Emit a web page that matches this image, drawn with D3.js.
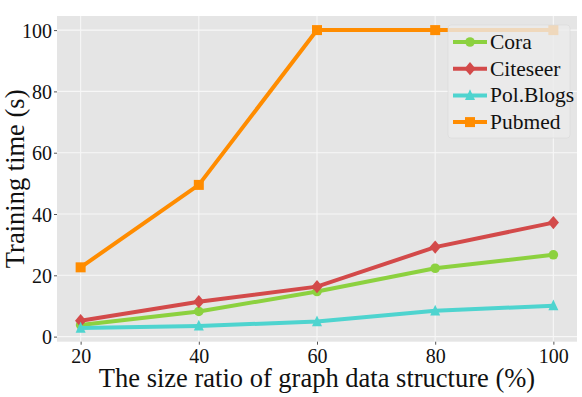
<!DOCTYPE html>
<html lang="en">
<head>
  <meta charset="UTF-8">
  <title>Training time</title>
  <script src="https://cdn.jsdelivr.net/npm/d3@7"></script>
  <style>
    body { margin: 0; background: white; }
    svg { display: block; font-family: "Liberation Serif", "Times New Roman", serif; }
  </style>
</head>
<body>
  <div id="chart"></div>
  <script>
    const ratios = [20, 40, 60, 80, 100]
    const cora = [3.8, 8.2, 14.7, 22.3, 26.7]
    const citeseer = [5.2, 11.4, 16.3, 29.2, 37.2]
    const polBlogs = [2.8, 3.5, 4.9, 8.4, 10.1]
    const pubmed = [22.6, 49.5, 100, 100, 100]
    const xTicks = [20, 40, 60, 80, 100]
    const yTicks = [0, 20, 40, 60, 80, 100]

    const series = [
      { name: 'Cora', values: cora, color: '#8cd13f', shape: 'circle' },
      { name: 'Citeseer', values: citeseer, color: '#d34a4a', shape: 'diamond' },
      { name: 'Pol.Blogs', values: polBlogs, color: '#4ed4cf', shape: 'triangle' },
      { name: 'Pubmed', values: pubmed, color: '#ff8c00', shape: 'square' }
    ]

    const width = 582
    const height = 397
    const padL = 57, padR = 577, padT = 16, padB = 341.7

    const svg = d3.select('#chart').append('svg')
      .attr('width', width)
      .attr('height', height)

    const x = d3.scaleLinear().domain([16, 104]).range([padL, padR])
    const y = d3.scaleLinear().domain([-1.66, 104.6]).range([padB, padT])

    svg.append('rect')
      .attr('x', padL).attr('y', padT)
      .attr('width', padR - padL).attr('height', padB - padT)
      .attr('fill', '#e5e5e5')

    // grid
    svg.append('g').selectAll('line').data(yTicks).enter().append('line')
      .attr('x1', padL).attr('x2', padR)
      .attr('y1', d => y(d)).attr('y2', d => y(d))
      .attr('stroke', '#f7f7f7').attr('stroke-width', 1.1)
    svg.append('g').selectAll('line').data(xTicks).enter().append('line')
      .attr('y1', padT).attr('y2', padB)
      .attr('x1', d => x(d)).attr('x2', d => x(d))
      .attr('stroke', '#f7f7f7').attr('stroke-width', 1.1)

    // axes
    const xAxis = svg.append('g')
      .attr('transform', `translate(0, ${padB})`)
      .call(d3.axisBottom(x).tickValues(xTicks).tickSize(3).tickPadding(4))
    const yAxis = svg.append('g')
      .attr('transform', `translate(${padL}, 0)`)
      .call(d3.axisLeft(y).tickValues(yTicks).tickSize(3).tickPadding(2))
    for (const ax of [xAxis, yAxis]) {
      ax.select('.domain').remove()
      ax.selectAll('line').attr('stroke', '#555')
      ax.selectAll('text')
        .attr('fill', '#111')
        .style('font-size', '20px')
        .style('font-family', '"Liberation Serif", serif')
    }
    yAxis.selectAll('text').attr('dy', '0.35em')

    svg.append('text')
      .attr('x', (padL + padR) / 2)
      .attr('y', 387)
      .attr('text-anchor', 'middle')
      .style('font-size', '26.5px')
      .attr('fill', '#111')
      .text('The size ratio of graph data structure (%)')

    svg.append('text')
      .attr('transform', `translate(24, ${(padT + padB) / 2}) rotate(-90)`)
      .attr('text-anchor', 'middle')
      .style('font-size', '26.5px')
      .attr('fill', '#111')
      .text('Training time (s)')

    function marker(g, shape, color) {
      if (shape === 'circle') {
        g.append('circle').attr('r', 4.8).attr('fill', color)
      } else if (shape === 'diamond') {
        g.append('path').attr('d', 'M0,-6.6L5.6,0L0,6.6L-5.6,0Z').attr('fill', color)
      } else if (shape === 'triangle') {
        g.append('path').attr('d', 'M0,-6.2L5,4.6L-5,4.6Z').attr('fill', color)
      } else {
        g.append('rect').attr('x', -5).attr('y', -5).attr('width', 10).attr('height', 10).attr('fill', color)
      }
    }

    const line = d3.line()
      .x((d, i) => x(ratios[i]))
      .y(d => y(d))

    series.forEach(s => {
      const g = svg.append('g')
      g.append('path')
        .attr('d', line(s.values))
        .attr('fill', 'none')
        .attr('stroke', s.color)
        .attr('stroke-width', 4)
      s.values.forEach((v, i) => {
        const m = g.append('g').attr('transform', `translate(${x(ratios[i])}, ${y(v)})`)
        marker(m, s.shape, s.color)
      })
    })

    // legend
    const legend = svg.append('g')
    legend.append('rect')
      .attr('x', 448).attr('y', 25)
      .attr('width', 122).attr('height', 113)
      .attr('rx', 3)
      .attr('fill', 'rgba(235,235,235,0.8)')
      .attr('stroke', 'rgba(215,215,215,0.7)')
      .attr('stroke-width', 0.8)

    series.forEach((s, i) => {
      const cy = 42 + i * 26.7
      legend.append('line')
        .attr('x1', 453).attr('x2', 487)
        .attr('y1', cy).attr('y2', cy)
        .attr('stroke', s.color).attr('stroke-width', 4)
      const m = legend.append('g').attr('transform', `translate(470, ${cy})`)
      marker(m, s.shape, s.color)
      legend.append('text')
        .attr('x', 490)
        .attr('y', cy + 7)
        .style('font-size', '21.5px')
        .attr('fill', '#111')
        .text(s.name)
    })
  </script>
</body>
</html>
